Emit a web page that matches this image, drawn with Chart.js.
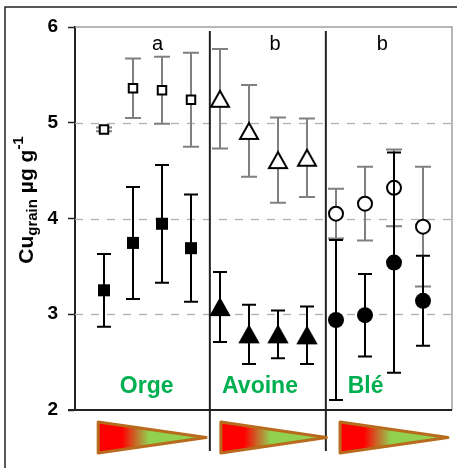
<!DOCTYPE html>
<html>
<head>
<meta charset="utf-8">
<script src="https://cdn.jsdelivr.net/npm/chart.js@4.4.0/dist/chart.umd.min.js"></script>
<style>
  html, body { margin: 0; padding: 0; background: #fff; }
  #wrap { position: relative; width: 457px; height: 468px; }
</style>
</head>
<body>
<div id="wrap"><canvas id="cuChart" width="457" height="468"></canvas></div>
<script>
// --- Data ---
const crops = ['Orge', 'Avoine', 'Blé'];
const groupLetters = ['a', 'b', 'b'];
const yTicks = [2, 3, 4, 5, 6];

const orgeX = [1, 2, 3, 4];
const avoineX = [5, 6, 7, 8];
const bleX = [9, 10, 11, 12];

const orgeOpen = [4.93, 5.36, 5.34, 5.24];
const orgeOpenErr = [0.02, 0.31, 0.35, 0.49];
const orgeFilled = [3.25, 3.745, 3.945, 3.69];
const orgeFilledErr = [0.38, 0.585, 0.615, 0.56];

const avoineOpen = [5.25, 4.915, 4.61, 4.635];
const avoineOpenErr = [0.52, 0.48, 0.445, 0.41];
const avoineFilled = [3.075, 2.79, 2.79, 2.78];
const avoineFilledErr = [0.365, 0.31, 0.25, 0.30];

const bleOpen = [4.05, 4.155, 4.32, 3.915];
const bleOpenErr = [0.26, 0.385, 0.40, 0.625];
const bleFilled = [2.94, 2.99, 3.54, 3.14];
const bleFilledErr = [0.835, 0.43, 1.15, 0.47];

const FONT = "'Liberation Sans', Arial, sans-serif";
const GRAY_BAR = '#808080';

function pts(xs, ys) {
    return xs.map((x, i) => ({ x: x, y: ys[i] }));
}

// triangle markers as small canvases so the box centre sits on the value
function triangleMarker(filled) {
    const c = document.createElement('canvas');
    c.width = 22;
    c.height = 20;
    const g = c.getContext('2d');
    g.beginPath();
    g.moveTo(11, 2);
    g.lineTo(20, 18);
    g.lineTo(2, 18);
    g.closePath();
    g.fillStyle = filled ? '#000' : '#fff';
    g.fill();
    g.lineWidth = 2;
    g.strokeStyle = '#000';
    g.stroke();
    return c;
}

// --- Error bars, drawn just before each dataset's markers ---
const errorBars = {
    id: 'errorBars',
    beforeDatasetDraw(chart, args) {
        const ds = chart.data.datasets[args.index];
        if (!ds.errors) return;
        const { ctx, scales: { x, y } } = chart;
        ctx.save();
        ctx.strokeStyle = ds.barColor;
        ctx.lineWidth = 2;
        ds.data.forEach((p, i) => {
            const px = x.getPixelForValue(p.x);
            const top = y.getPixelForValue(p.y + ds.errors[i]);
            const bot = y.getPixelForValue(p.y - ds.errors[i]);
            ctx.beginPath();
            ctx.moveTo(px, top);
            ctx.lineTo(px, bot);
            ctx.moveTo(px - ds.capHalf, top);
            ctx.lineTo(px + ds.capHalf, top);
            ctx.moveTo(px - ds.capHalf, bot);
            ctx.lineTo(px + ds.capHalf, bot);
            ctx.stroke();
        });
        ctx.restore();
    }
};

// --- Frame, dashed grid, separators, labels, arrows ---
const decorations = {
    id: 'decorations',
    beforeDatasetsDraw(chart) {
        const { ctx, chartArea: a, scales: { x, y } } = chart;
        ctx.save();

        // dashed grid at inner ticks
        ctx.strokeStyle = '#b0b0b0';
        ctx.lineWidth = 1.3;
        ctx.setLineDash([8, 8]);
        yTicks.slice(1, -1).forEach(v => {
            const py = Math.round(y.getPixelForValue(v)) + 0.5;
            ctx.beginPath();
            ctx.moveTo(a.left, py);
            ctx.lineTo(a.right, py);
            ctx.stroke();
        });
        ctx.setLineDash([]);

        // gray top/right border
        ctx.strokeStyle = '#a0a0a0';
        ctx.lineWidth = 1.5;
        ctx.beginPath();
        ctx.moveTo(a.left, a.top);
        ctx.lineTo(a.right, a.top);
        ctx.lineTo(a.right, a.bottom);
        ctx.stroke();

        // bottom axis
        ctx.strokeStyle = '#222';
        ctx.lineWidth = 2;
        ctx.beginPath();
        ctx.moveTo(a.left - 7, a.bottom);
        ctx.lineTo(a.right, a.bottom);
        ctx.stroke();

        // group separators, running down past the axis
        ctx.lineWidth = 2;
        [4.65, 8.65].forEach(v => {
            const px = x.getPixelForValue(v);
            ctx.beginPath();
            ctx.moveTo(px, a.top + 4);
            ctx.lineTo(px, a.bottom + 41);
            ctx.stroke();
        });

        // letters above each group
        ctx.fillStyle = '#000';
        ctx.font = '20px ' + FONT;
        ctx.textAlign = 'center';
        ctx.textBaseline = 'middle';
        [2.85, 6.9, 10.6].forEach((v, i) => {
            ctx.fillText(groupLetters[i], x.getPixelForValue(v), y.getPixelForValue(5.82));
        });

        // crop names
        ctx.fillStyle = '#00b050';
        ctx.font = 'bold 23px ' + FONT;
        [2.47, 6.38, 10.02].forEach((v, i) => {
            ctx.fillText(crops[i], x.getPixelForValue(v), y.getPixelForValue(2.24));
        });

        // gradient wedges under the axis
        [[0.8, 4.52], [5.03, 8.67], [9.14, 12.86]].forEach(([s, e]) => {
            const x0 = x.getPixelForValue(s);
            const x1 = x.getPixelForValue(e);
            const top = a.bottom + 12;
            const bot = a.bottom + 43;
            const mid = (top + bot) / 2;
            const grad = ctx.createLinearGradient(x0, 0, x1, 0);
            grad.addColorStop(0, '#ff0000');
            grad.addColorStop(0.22, '#ff0000');
            grad.addColorStop(0.47, '#92d050');
            grad.addColorStop(1, '#92d050');
            ctx.beginPath();
            ctx.moveTo(x0, top);
            ctx.lineTo(x1, mid);
            ctx.lineTo(x0, bot);
            ctx.closePath();
            ctx.fillStyle = grad;
            ctx.fill();
            ctx.strokeStyle = '#b86b1c';
            ctx.lineWidth = 3;
            ctx.lineJoin = 'round';
            ctx.stroke();
        });

        ctx.restore();
    },
    afterDraw(chart) {
        const { ctx } = chart;
        ctx.save();

        // outer frame (left + top only visible)
        ctx.strokeStyle = '#222';
        ctx.lineWidth = 1.5;
        ctx.beginPath();
        ctx.moveTo(5, 468);
        ctx.lineTo(5, 7);
        ctx.lineTo(457, 7);
        ctx.stroke();

        // y title with subscript / superscript
        const parts = [
            { t: 'Cu', size: 21, dy: 0 },
            { t: 'grain', size: 15, dy: 4 },
            { t: ' µg g', size: 21, dy: 0 },
            { t: '-1', size: 15, dy: -10 }
        ];
        let total = 0;
        parts.forEach(p => {
            ctx.font = 'bold ' + p.size + 'px ' + FONT;
            p.w = ctx.measureText(p.t).width;
            total += p.w;
        });
        ctx.translate(33, 200);
        ctx.rotate(-Math.PI / 2);
        ctx.fillStyle = '#000';
        ctx.textAlign = 'left';
        ctx.textBaseline = 'alphabetic';
        let cx = -total / 2;
        parts.forEach(p => {
            ctx.font = 'bold ' + p.size + 'px ' + FONT;
            ctx.fillText(p.t, cx, p.dy);
            cx += p.w;
        });
        ctx.restore();
    }
};

const openTri = triangleMarker(false);
const filledTri = triangleMarker(true);

const ctxCu = document.getElementById('cuChart').getContext('2d');
const cuChart = new Chart(ctxCu, {
    type: 'scatter',
    data: {
        datasets: [
            {
                label: 'Orge (ouvert)', data: pts(orgeX, orgeOpen), errors: orgeOpenErr,
                barColor: GRAY_BAR, capHalf: 8, order: 1,
                pointStyle: 'rect', pointRadius: 6, backgroundColor: '#fff', borderColor: '#000', borderWidth: 2
            },
            {
                label: 'Orge (plein)', data: pts(orgeX, orgeFilled), errors: orgeFilledErr,
                barColor: '#000', capHalf: 7, order: 0,
                pointStyle: 'rect', pointRadius: 8.5, backgroundColor: '#000', borderColor: '#000', borderWidth: 0
            },
            {
                label: 'Avoine (ouvert)', data: pts(avoineX, avoineOpen), errors: avoineOpenErr,
                barColor: GRAY_BAR, capHalf: 8, order: 1,
                pointStyle: openTri, pointRadius: 9
            },
            {
                label: 'Avoine (plein)', data: pts(avoineX, avoineFilled), errors: avoineFilledErr,
                barColor: '#000', capHalf: 7, order: 0,
                pointStyle: filledTri, pointRadius: 9
            },
            {
                label: 'Blé (ouvert)', data: pts(bleX, bleOpen), errors: bleOpenErr,
                barColor: GRAY_BAR, capHalf: 8, order: 1,
                pointStyle: 'circle', pointRadius: 7, backgroundColor: '#fff', borderColor: '#000', borderWidth: 2
            },
            {
                label: 'Blé (plein)', data: pts(bleX, bleFilled), errors: bleFilledErr,
                barColor: '#000', capHalf: 7, order: 0,
                pointStyle: 'circle', pointRadius: 8, backgroundColor: '#000', borderColor: '#000', borderWidth: 0
            }
        ]
    },
    options: {
        responsive: false,
        animation: false,
        layout: { autoPadding: false, padding: { top: 27, right: 5, bottom: 58, left: 0 } },
        plugins: {
            legend: { display: false },
            tooltip: { enabled: false }
        },
        scales: {
            x: { type: 'linear', min: 0, max: 13, display: false },
            y: {
                min: 2,
                max: 6,
                afterBuildTicks: s => { s.ticks = yTicks.map(v => ({ value: v })); },
                afterFit: s => { s.width = 75; },
                ticks: {
                    color: '#000',
                    padding: 10,
                    font: { family: FONT, size: 19, weight: 'bold' }
                },
                grid: { drawOnChartArea: false, tickLength: 7, tickColor: '#222', tickWidth: 1.5 },
                border: { color: '#222', width: 2 }
            }
        }
    },
    plugins: [errorBars, decorations]
});
</script>
</body>
</html>
